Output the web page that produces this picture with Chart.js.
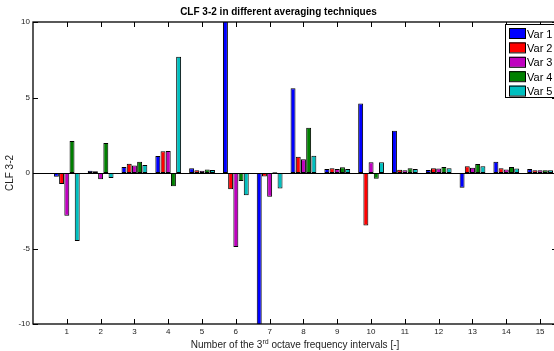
<!DOCTYPE html>
<html>
<head>
<meta charset="utf-8">
<script src="https://cdn.jsdelivr.net/npm/chart.js@4/dist/chart.umd.min.js"></script>
<style>
  html, body { margin: 0; padding: 0; background: #fff; overflow: hidden; }
  canvas { display: block; }
</style>
</head>
<body>
<canvas id="clfChart" width="560" height="351"></canvas>
<script>
const title = 'CLF 3-2 in different averaging techniques'

// interval numbers on the x axis and y ticks
const intervals = [1, 2, 3, 4, 5, 6, 7, 8, 9, 10, 11, 12, 13, 14, 15]
const yTicks = [-10, -5, 0, 5, 10]

const seriesNames = ['Var 1', 'Var 2', 'Var 3', 'Var 4', 'Var 5']
const seriesColors = ['#0000ff', '#ff0000', '#bf00bf', '#008000', '#00bfbf']

const var1 = [-0.25, 0.15, 0.40, 1.13, 0.31, 10.5, -10.5, 5.62, 0.27, 4.60, 2.79, 0.20, -0.97, 0.75, 0.27]
const var2 = [-0.73, 0.12, 0.62, 1.44, 0.18, -1.08, -0.24, 1.08, 0.31, -3.47, 0.22, 0.31, 0.44, 0.31, 0.18]
const var3 = [-2.83, -0.42, 0.50, 1.46, 0.15, -4.90, -1.57, 0.91, 0.27, 0.71, 0.18, 0.29, 0.35, 0.24, 0.18]
const var4 = [2.12, 1.99, 0.75, -0.88, 0.24, -0.53, 0.05, 2.99, 0.38, -0.38, 0.31, 0.40, 0.60, 0.40, 0.18]
const var5 = [-4.50, -0.33, 0.53, 7.70, 0.20, -1.48, -1.02, 1.15, 0.27, 0.71, 0.27, 0.31, 0.44, 0.29, 0.18]

const allSeries = [var1, var2, var3, var4, var5]
const FONT = "'Liberation Sans', Arial, sans-serif"

var datasets = allSeries.map((vals, k) => ({
    label: seriesNames[k],
    backgroundColor: seriesColors[k],
    borderColor: '#000',
    borderWidth: 1,
    borderSkipped: false,
    categoryPercentage: 0.77,
    barPercentage: 0.95,
    clip: 0,
    data: intervals.map((x, i) => ({ x: x, y: vals[i] }))
}))

// matlab style box, inward ticks, zero line, legend and x label
var matlabAxes = {
    id: 'matlabAxes',
    beforeDatasetsDraw(chart) {
        const { ctx, chartArea: a, scales } = chart
        const y0 = Math.round(scales.y.getPixelForValue(0)) + 0.5
        ctx.save()
        ctx.strokeStyle = '#000'
        ctx.lineWidth = 1
        ctx.beginPath()
        ctx.moveTo(a.left, y0)
        ctx.lineTo(a.right, y0)
        ctx.stroke()
        ctx.restore()
    },
    afterDatasetsDraw(chart) {
        const { ctx, chartArea: a, scales } = chart
        const tl = 5
        ctx.save()
        ctx.strokeStyle = '#000'
        ctx.lineWidth = 1.3
        ctx.strokeRect(a.left, a.top, a.right - a.left, a.bottom - a.top)
        ctx.lineWidth = 1
        ctx.beginPath()
        intervals.forEach(v => {
            const px = Math.round(scales.x.getPixelForValue(v)) + 0.5
            ctx.moveTo(px, a.bottom); ctx.lineTo(px, a.bottom - tl)
            ctx.moveTo(px, a.top); ctx.lineTo(px, a.top + tl)
        })
        yTicks.forEach(v => {
            const py = Math.round(scales.y.getPixelForValue(v)) + 0.5
            ctx.moveTo(a.left, py); ctx.lineTo(a.left + tl, py)
            ctx.moveTo(a.right, py); ctx.lineTo(a.right - tl, py)
        })
        ctx.stroke()

        // legend (north east)
        const lx = 505, ly = 24, lw = 56, rowH = 14.4
        const lh = rowH * datasets.length + 1
        ctx.fillStyle = '#fff'
        ctx.fillRect(lx, ly, lw, lh)
        ctx.strokeRect(lx + 0.5, ly + 0.5, lw, lh)
        ctx.font = '11px ' + FONT
        ctx.textBaseline = 'alphabetic'
        ctx.textAlign = 'left'
        chart.data.datasets.forEach((ds, i) => {
            const sy = ly + 4 + i * rowH
            ctx.fillStyle = ds.backgroundColor
            ctx.fillRect(lx + 4, sy, 16, 10)
            ctx.strokeRect(lx + 4.5, sy + 0.5, 16, 10)
            ctx.fillStyle = '#000'
            ctx.fillText(ds.label, lx + 22, sy + 9.5)
        })

        // x label with superscript
        const parts = ['Number of the 3', 'rd', ' octave frequency intervals [-]']
        ctx.fillStyle = '#222'
        ctx.font = '10px ' + FONT
        const w0 = ctx.measureText(parts[0]).width
        const w2 = ctx.measureText(parts[2]).width
        ctx.font = '7px ' + FONT
        const w1 = ctx.measureText(parts[1]).width
        let x = (a.left + a.right) / 2 - (w0 + w1 + w2) / 2
        const base = 348
        ctx.font = '10px ' + FONT
        ctx.fillText(parts[0], x, base)
        x += w0
        ctx.font = '7px ' + FONT
        ctx.fillText(parts[1], x, base - 4)
        x += w1
        ctx.font = '10px ' + FONT
        ctx.fillText(parts[2], x, base)
        ctx.restore()
    }
}

var ctx = document.getElementById('clfChart')
var clfChart = new Chart(ctx, {
    type: 'bar',
    data: { datasets: datasets },
    plugins: [matlabAxes],
    options: {
        responsive: false,
        animation: false,
        layout: { padding: { right: 3 } },
        plugins: {
            legend: { display: false },
            tooltip: { enabled: false },
            title: {
                display: true,
                text: title,
                color: '#000',
                font: { family: FONT, size: 10, weight: 'bold' },
                padding: { top: 6, bottom: 4 }
            }
        },
        scales: {
            x: {
                type: 'linear',
                min: 0,
                max: 15.5,
                offset: false,
                grid: { display: false, drawTicks: false, offset: false },
                border: { display: false },
                afterBuildTicks: s => { s.ticks = intervals.map(v => ({ value: v })) },
                afterFit: s => { s.height = 27 },
                ticks: {
                    color: '#222',
                    padding: 3,
                    maxRotation: 0,
                    autoSkip: false,
                    font: { family: FONT, size: 8 }
                }
            },
            y: {
                min: -10,
                max: 10,
                grid: { display: false, drawTicks: false },
                border: { display: false },
                afterBuildTicks: s => { s.ticks = yTicks.map(v => ({ value: v })) },
                afterFit: s => { s.width = 33 },
                ticks: {
                    color: '#222',
                    padding: 3,
                    font: { family: FONT, size: 8 }
                },
                title: {
                    display: true,
                    text: 'CLF 3-2',
                    color: '#222',
                    font: { family: FONT, size: 10 },
                    padding: { top: 4, bottom: 0 }
                }
            }
        }
    }
})
</script>
</body>
</html>
